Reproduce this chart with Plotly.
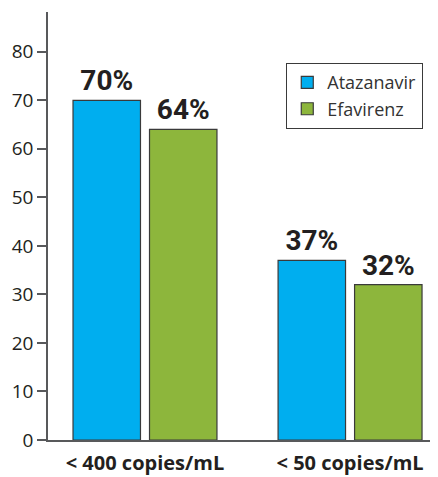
import plotly.graph_objects as go

categories = ["< 400 copies/mL", "< 50 copies/mL"]
atazanavir = [70, 37]
efavirenz = [64, 32]
series_names = ["Atazanavir", "Efavirenz"]
y_ticks = [0, 10, 20, 30, 40, 50, 60, 70, 80]

BLUE = "#00AEEF"
GREEN = "#8DB63C"
DARK = "#231F20"
LINE = "#58595B"

fig = go.Figure()
for i, (name, vals, col) in enumerate([(series_names[0], atazanavir, BLUE), (series_names[1], efavirenz, GREEN)]):
    fig.add_trace(go.Bar(
        name=name, x=categories, y=vals, legendgroup=f"g{i}",
        marker=dict(color=col, line=dict(color="#3a3a3a", width=1.2)),
        text=[f"{v}%" for v in vals], textposition="outside",
        textfont=dict(family="Roboto", size=28, color=DARK, weight="bold"),
        cliponaxis=False,
    ))

# The page body adds an 8px offset, so the figure is 8px smaller than the window
fig.update_layout(
    width=430, height=469,
    margin=dict(l=40, r=1, t=4, b=37, autoexpand=False),
    plot_bgcolor="white", paper_bgcolor="white",
    barmode="group", bargap=0.254, bargroupgap=0.118,
    font=dict(family="Open Sans", color=DARK),
    showlegend=True,
    legend=dict(
        x=0.612, y=0.881, xanchor="left", yanchor="top",
        bordercolor="#3a3a3a", borderwidth=1.2, bgcolor="white",
        font=dict(family="Open Sans", size=18, color="#333333"),
        traceorder="grouped", tracegroupgap=0,
    ),
    xaxis=dict(
        range=[-0.473, 1.424], showline=True, linecolor=LINE, linewidth=1.5,
        ticks="", tickfont=dict(family="Open Sans", size=20, color=DARK, weight="bold"),
        showgrid=False, zeroline=False, automargin=False, ticklabelstandoff=4,
    ),
    yaxis=dict(
        range=[0, 88.2], tickvals=y_ticks, showline=True, linecolor=LINE, linewidth=1.5,
        ticks="outside", ticklen=9, tickcolor=LINE, tickwidth=1.5,
        tickfont=dict(family="Open Sans", size=19, color=DARK),
        showgrid=False, zeroline=False, automargin=False,
    ),
)

fig.write_html("out.html")
